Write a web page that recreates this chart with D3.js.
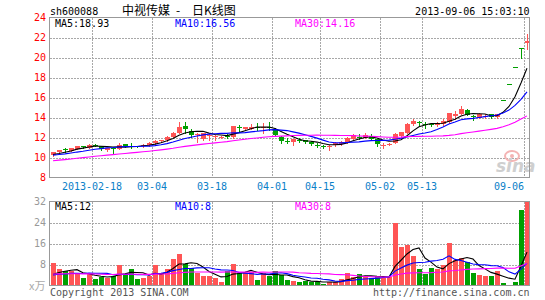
<!DOCTYPE html>
<html>
<head>
<meta charset="utf-8">
<script src="https://cdn.jsdelivr.net/npm/d3@7"></script>
<style>
  body { margin: 0; background: #fff; }
  svg text { font-family: "DejaVu Sans Mono", monospace; font-size: 10px; }
</style>
</head>
<body>
<svg id="chart" width="545" height="300"></svg>
<script>
// daily K data, 80 trading days (2013-02 .. 2013-09-06)
const open = [10.30,10.55,10.85,10.70,10.90,11.12,11.00,11.30,11.15,10.80,
  10.95,10.90,11.32,11.12,11.15,11.12,11.25,11.45,11.62,11.77,
  12.10,12.50,13.20,12.70,12.30,11.90,12.15,12.05,12.00,12.15,
  12.05,13.05,12.85,12.90,13.10,13.00,13.08,12.90,12.10,11.70,
  11.60,11.80,11.77,11.60,11.30,11.15,11.10,11.22,11.35,11.55,
  11.88,12.08,11.95,12.18,11.85,11.15,11.31,11.48,12.13,12.48,
  13.35,13.53,13.33,13.38,13.21,13.31,13.53,14.15,14.38,14.75,
  14.18,13.93,14.03,14.35,14.10,15.73,17.30,19.03,20.93,21.45];
const high = [10.60,10.80,10.95,11.00,11.15,11.15,11.35,11.35,11.20,11.00,
  11.10,11.50,11.35,11.50,11.20,11.35,11.55,11.75,11.80,12.15,
  12.55,13.57,13.60,12.90,12.50,12.50,12.40,12.30,12.15,12.40,
  13.20,13.25,13.10,13.40,13.45,13.50,13.60,13.00,12.15,12.00,
  11.88,11.95,11.80,11.65,11.45,11.30,11.30,11.52,11.62,12.02,
  12.31,12.33,12.45,12.35,11.88,11.48,11.45,12.48,12.55,13.49,
  13.88,13.63,13.55,13.43,13.55,13.81,14.49,14.68,15.13,14.81,
  14.28,14.41,14.35,14.38,14.36,15.73,17.30,19.03,20.93,22.30];
const low = [10.20,10.50,10.60,10.65,10.85,11.00,10.95,11.15,10.80,10.70,
  10.45,10.85,11.05,11.00,11.05,11.10,11.20,11.40,11.55,11.70,
  12.05,12.45,12.44,12.10,11.60,11.80,11.80,11.75,11.95,11.95,
  11.95,12.70,12.80,12.85,12.75,12.50,12.80,12.30,11.45,11.45,
  11.25,11.60,11.45,11.30,11.10,10.95,10.78,11.20,11.30,11.50,
  11.83,11.83,11.91,11.73,11.13,10.93,11.28,11.43,12.08,12.43,
  13.28,13.13,12.98,13.13,13.13,13.23,13.48,13.88,14.33,14.23,
  13.73,13.91,13.98,13.93,14.00,15.73,17.30,19.03,19.95,20.90];
const close = [10.55,10.75,10.80,10.95,11.12,11.08,11.28,11.25,10.90,10.95,
  10.90,11.30,11.12,11.08,11.10,11.30,11.50,11.70,11.75,12.10,
  12.50,13.10,12.84,12.30,12.40,12.44,12.22,12.12,12.10,12.08,
  13.15,12.98,13.05,13.08,13.02,13.06,13.02,12.30,11.62,11.64,
  11.82,11.76,11.52,11.35,11.26,11.10,11.18,11.48,11.55,11.98,
  12.23,12.01,12.25,11.88,11.38,11.21,11.38,12.38,12.51,13.40,
  13.63,13.45,13.25,13.23,13.46,13.70,14.45,14.33,14.86,14.28,
  14.08,14.35,14.15,14.05,14.30,15.73,17.30,19.03,20.93,21.66];
// volume, x万
const volume = [8.7,6.4,5.4,5.4,4.3,2.8,4.5,2.6,3.4,2.8,
  3.6,7.9,4.4,6.3,2.6,3.0,3.6,7.9,4.6,6.2,
  10.2,12.1,8.1,6.6,4.9,3.6,3.6,2.8,1.5,5.6,
  8.2,4.8,4.9,5.2,2.1,4.9,3.6,5.6,3.9,2.1,
  1.7,1.3,1.8,1.5,1.5,0.6,1.3,1.5,2.5,4.8,
  3.3,4.4,3.4,2.8,3.6,3.0,3.3,23.7,14.5,15.6,
  11.3,6.4,4.5,6.8,6.1,8.0,16.3,9.9,10.3,8.9,
  4.9,4.0,3.6,3.6,5.6,1.0,0.2,1.5,28.9,32.0];
// days before the window, estimated from where the MA lines start
const priorCloses = [9.05,9.1,9.0,9.15,9.2,9.1,9.25,9.3,9.2,9.35,
  9.4,9.45,9.4,9.55,9.6,9.65,9.7,9.8,9.85,9.95,
  10.05,10.15,10.1,10.2,10.3,10.25,10.2,10.3,10.2];
const priorVolumes = [5.2,4.8,4.9,4.4,4.8,3.9,4.7,5.1,5.0,4.2,
  4.8,4.5,3.8,5.1,4.9,4.0,5.4,3.6,4.6,4.3,
  3.9,4.1,3.3,3.6,3.8,3.2,2.9,3.5,3.2];

const tickIndex = [7, 17, 27, 37, 45, 55, 62, 79];
const tickLabels = ["2013-02-18","03-04","03-18","04-01","04-15","05-02","05-13","09-06"];
const priceTicks = [8,10,12,14,16,18,20,22,24];
const volTicks = [8,16,24,32];

const UP = "#ff5555", DOWN = "#00a000", GRID = "#a8a8a8", FRAME = "#999";

const svg = d3.select("#chart");
const n = close.length;

const x = d3.scaleBand().domain(d3.range(n)).range([50, 530]);
const cx = i => x(i) + 3;
const yP = d3.scaleLinear().domain([8, 24]).range([177.5, 17.5]);
const yV = d3.scaleLinear().domain([0, 32]).range([285.5, 201.5]);

function movingAvg(vals, pre, k) {
  const all = pre.concat(vals);
  return vals.map((_, i) => d3.mean(all.slice(pre.length + i - k + 1, pre.length + i + 1)));
}
const isUp = i => close[i] > open[i];

// ---- grid
const gGrid = svg.append("g").attr("shape-rendering", "crispEdges");
gGrid.selectAll(".hp").data(priceTicks.slice(1, -1)).join("line")
  .attr("x1", 50).attr("x2", 530)
  .attr("y1", d => Math.round(yP(d)) + 0.5).attr("y2", d => Math.round(yP(d)) + 0.5)
  .attr("stroke", GRID).attr("stroke-dasharray", "2,1");
gGrid.selectAll(".hv").data(volTicks.slice(0, -1)).join("line")
  .attr("x1", 50).attr("x2", 530)
  .attr("y1", d => Math.round(yV(d)) + 0.5).attr("y2", d => Math.round(yV(d)) + 0.5)
  .attr("stroke", GRID).attr("stroke-dasharray", "2,1");
tickIndex.forEach(i => {
  [[17.5, 177.5], [201.5, 285.5]].forEach(([a, b]) => {
    gGrid.append("line").attr("x1", x(i) + 0.5).attr("x2", x(i) + 0.5)
      .attr("y1", a).attr("y2", b)
      .attr("stroke", GRID).attr("stroke-dasharray", "2,1");
  });
});

// ---- sina watermark
const wm = svg.append("g");
wm.append("ellipse").attr("cx", 512).attr("cy", 156).attr("rx", 7).attr("ry", 5)
  .attr("fill", "none").attr("stroke", "#f4b4b4").attr("stroke-width", 2);
wm.append("circle").attr("cx", 512).attr("cy", 156).attr("r", 2).attr("fill", "#f4b4b4");
wm.append("text").attr("x", 496).attr("y", 172)
  .style("font-family", "DejaVu Sans").style("font-size", "17px")
  .style("font-weight", "bold").style("font-style", "italic")
  .attr("fill", "#cfcfcf").text("sina");

// ---- candles
const gC = svg.append("g").attr("shape-rendering", "crispEdges");
gC.selectAll(".wick").data(d3.range(n)).join("line")
  .attr("x1", i => cx(i) + 0.5).attr("x2", i => cx(i) + 0.5)
  .attr("y1", i => Math.round(yP(high[i]))).attr("y2", i => Math.round(yP(low[i])) + 1)
  .attr("stroke", i => isUp(i) ? UP : DOWN);
gC.selectAll(".body").data(d3.range(n)).join("rect")
  .attr("x", i => x(i) + 1).attr("width", 5)
  .attr("y", i => Math.round(yP(Math.max(open[i], close[i]))))
  .attr("height", i => Math.max(1, Math.round(yP(Math.min(open[i], close[i]))) - Math.round(yP(Math.max(open[i], close[i])))))
  .attr("fill", i => isUp(i) ? UP : DOWN);

// ---- volume bars
svg.append("g").attr("shape-rendering", "crispEdges")
  .selectAll("rect").data(d3.range(n)).join("rect")
  .attr("x", i => x(i) + 1).attr("width", 5)
  .attr("y", i => Math.round(yV(volume[i])))
  .attr("height", i => 286 - Math.round(yV(volume[i])))
  .attr("fill", i => isUp(i) ? UP : DOWN);

// ---- moving averages
const maDefs = [[5, "#000"], [10, "#0000ff"], [30, "#ff00ff"]];
maDefs.forEach(([k, col]) => {
  const mp = movingAvg(close, priorCloses, k);
  const mv = movingAvg(volume, priorVolumes, k);
  svg.append("path").datum(mp)
    .attr("d", d3.line().x((d, i) => cx(i)).y(d => yP(d)))
    .attr("fill", "none").attr("stroke", col).attr("stroke-width", 1.1);
  svg.append("path").datum(mv)
    .attr("d", d3.line().x((d, i) => cx(i)).y(d => yV(d)))
    .attr("fill", "none").attr("stroke", col).attr("stroke-width", 1.1);
});

// ---- frames
[[17.5, 177.5], [201.5, 285.5]].forEach(([a, b]) => {
  svg.append("rect").attr("x", 49.5).attr("y", a).attr("width", 480).attr("height", b - a)
    .attr("fill", "none").attr("stroke", FRAME).attr("shape-rendering", "crispEdges");
});

// ---- axes labels
svg.append("g").selectAll("text").data(priceTicks).join("text")
  .attr("x", 46).attr("y", d => yP(d) + 3.5).attr("text-anchor", "end")
  .attr("fill", "#ff0000").text(d => d);
svg.append("g").selectAll("text").data(volTicks).join("text")
  .attr("x", 46).attr("y", d => yV(d) + 3.5).attr("text-anchor", "end")
  .attr("fill", "#999").text(d => d);
svg.append("g").selectAll("text").data(tickIndex).join("text")
  .attr("x", d => x(d))
  .attr("text-anchor", d => x(d) + 30 > 529 ? "end" : "middle")
  .attr("y", 190).attr("fill", "#0a80c8")
  .text((d, j) => tickLabels[j]);

// ---- MA readouts (last value)
const last = a => a[a.length - 1];
const maX = [55, 175, 295];
maDefs.forEach(([k, col], j) => {
  const vp = last(movingAvg(close, priorCloses, k));
  const vv = last(movingAvg(volume, priorVolumes, k));
  svg.append("text").attr("x", maX[j]).attr("y", 27).attr("fill", col)
    .text("MA" + k + ":" + vp.toFixed(2));
  svg.append("text").attr("x", maX[j]).attr("y", 209.5).attr("fill", col)
    .text("MA" + k + ":" + Math.floor(vv));
});

// ---- headers / footers
svg.append("text").attr("x", 50).attr("y", 15).attr("fill", "#000").text("sh600088");
const cjk = "'Noto Sans CJK SC', sans-serif";
svg.append("text").attr("x", 122).attr("y", 15).style("font-family", cjk).style("font-size", "12px")
  .attr("fill", "#000").text("中视传媒");
svg.append("text").attr("x", 176).attr("y", 15).style("font-family", cjk).style("font-size", "12px")
  .attr("fill", "#000").text("-");
svg.append("text").attr("x", 192).attr("y", 15).style("font-family", cjk).style("font-size", "12px")
  .attr("fill", "#000").text("日K线图");
svg.append("text").attr("x", 529.5).attr("y", 15).attr("text-anchor", "end")
  .attr("fill", "#000").text("2013-09-06 15:03:10");
svg.append("text").attr("x", 29).attr("y", 290).style("font-family", cjk).style("font-size", "11px")
  .attr("fill", "#aaa").text("x万");
svg.append("text").attr("x", 50).attr("y", 296).attr("fill", "#555").text("Copyright 2013 SINA.COM");
svg.append("text").attr("x", 529.5).attr("y", 296).attr("text-anchor", "end")
  .attr("fill", "#555").text("http://finance.sina.com.cn");
</script>
</body>
</html>
